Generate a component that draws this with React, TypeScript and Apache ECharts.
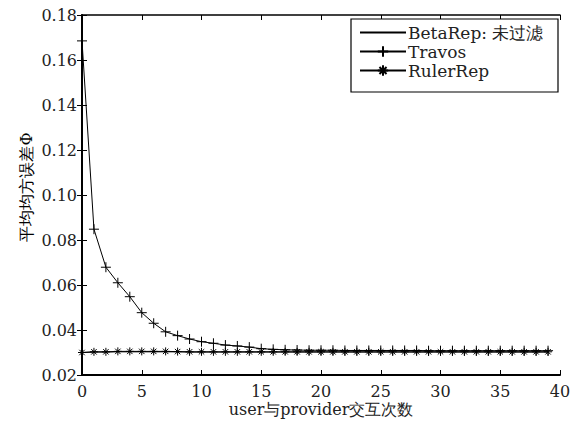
import React, { useEffect, useRef } from "react";
import * as echarts from "echarts";

const interactions = [
  0, 1, 2, 3, 4, 5, 6, 7, 8, 9, 10, 11, 12, 13, 14, 15, 16, 17, 18, 19,
  20, 21, 22, 23, 24, 25, 26, 27, 28, 29, 30, 31, 32, 33, 34, 35, 36, 37, 38, 39,
];
const betaRep = [
  0.0300, 0.0302, 0.0302, 0.0303, 0.0303, 0.0303, 0.0303, 0.0303, 0.0303, 0.0302,
  0.0302, 0.0302, 0.0302, 0.0302, 0.0302, 0.0302, 0.0302, 0.0302, 0.0302, 0.0302,
  0.0302, 0.0302, 0.0302, 0.0302, 0.0302, 0.0302, 0.0302, 0.0302, 0.0302, 0.0302,
  0.0302, 0.0302, 0.0302, 0.0302, 0.0302, 0.0302, 0.0302, 0.0302, 0.0302, 0.0302,
];
const travos = [
  0.1685, 0.0848, 0.0679, 0.0610, 0.0548, 0.0477, 0.0430, 0.0392, 0.0375, 0.0360,
  0.0348, 0.0341, 0.0333, 0.0329, 0.0324, 0.0317, 0.0314, 0.0312, 0.0311, 0.0310,
  0.0310, 0.0310, 0.0309, 0.0309, 0.0309, 0.0309, 0.0309, 0.0309, 0.0309, 0.0308,
  0.0308, 0.0308, 0.0308, 0.0308, 0.0308, 0.0308, 0.0308, 0.0308, 0.0308, 0.0308,
];
const rulerRep = [
  0.0300, 0.0303, 0.0303, 0.0305, 0.0305, 0.0305, 0.0305, 0.0305, 0.0304, 0.0303,
  0.0303, 0.0303, 0.0303, 0.0303, 0.0303, 0.0303, 0.0303, 0.0303, 0.0303, 0.0303,
  0.0303, 0.0303, 0.0303, 0.0303, 0.0303, 0.0303, 0.0303, 0.0303, 0.0303, 0.0303,
  0.0303, 0.0303, 0.0303, 0.0303, 0.0303, 0.0303, 0.0303, 0.0303, 0.0303, 0.0303,
];
const seriesNames = ["BetaRep: 未过滤", "Travos", "RulerRep"];
const xName = "user与provider交互次数";
const yName = "平均均方误差Φ";

const FONT = "DejaVu Serif";
const PLUS = "path://M0,5L10,5M5,0L5,10";
const STAR = "path://M5,0L5,10M0,5L10,5M1.6,1.6L8.4,8.4M8.4,1.6L1.6,8.4";

export default function App() {
  const ref = useRef<HTMLDivElement>(null);
  useEffect(() => {
    if (!ref.current) return;
    const chart = echarts.init(ref.current, undefined, { renderer: "svg" });
    const pairs = (vals: number[]) => interactions.map((x, i) => [x, vals[i]]);
    const axisText = { color: "#222", fontFamily: FONT, fontSize: 16, fontWeight: "normal" };
    chart.setOption({
      animation: false,
      backgroundColor: "#fff",
      textStyle: { fontFamily: FONT, fontWeight: "normal" },
      grid: { left: 82, right: 25, top: 15, bottom: 48 },
      xAxis: [
        {
          type: "value",
          min: 0,
          max: 40,
          interval: 5,
          position: "bottom",
          name: xName,
          nameLocation: "middle",
          nameGap: 26,
          nameMoveOverlap: false,
          nameTextStyle: { ...axisText },
          axisLine: { lineStyle: { color: "#000", width: 2 } },
          axisTick: { inside: true, length: 5, lineStyle: { color: "#000" } },
          axisLabel: { ...axisText, margin: 8 },
          splitLine: { show: false },
        },
        {
          type: "value",
          min: 0,
          max: 40,
          interval: 5,
          position: "top",
          axisLine: { lineStyle: { color: "#000", width: 1.5 } },
          axisTick: { inside: true, length: 5, lineStyle: { color: "#000" } },
          axisLabel: { show: false },
          splitLine: { show: false },
        },
      ],
      yAxis: [
        {
          type: "value",
          min: 0.02,
          max: 0.18,
          interval: 0.02,
          position: "left",
          name: yName,
          nameLocation: "middle",
          nameGap: 48,
          nameMoveOverlap: false,
          nameTextStyle: { ...axisText, color: "#000", padding: [0, 0, 0, 16] },
          axisLine: { show: true, lineStyle: { color: "#000", width: 2 } },
          axisTick: { show: true, inside: true, length: 5, lineStyle: { color: "#000" } },
          axisLabel: { ...axisText, margin: 5, formatter: (v: number) => v.toFixed(2) },
          splitLine: { show: false },
        },
        {
          type: "value",
          min: 0.02,
          max: 0.18,
          interval: 0.02,
          position: "right",
          axisLine: { show: true, lineStyle: { color: "#000", width: 1.5 } },
          axisTick: { show: true, inside: true, length: 5, lineStyle: { color: "#000" } },
          axisLabel: { show: false },
          splitLine: { show: false },
        },
      ],
      legend: {
        orient: "vertical",
        left: 359,
        top: 24,
        padding: 0,
        itemGap: 2,
        itemWidth: 46,
        itemHeight: 13,
        textStyle: { color: "#222", fontFamily: FONT, fontSize: 17, fontWeight: "normal", padding: [0, 0, 0, -3] },
        data: [
          { name: seriesNames[0], itemStyle: { color: "transparent", borderWidth: 0, opacity: 0 } },
          { name: seriesNames[1] },
          { name: seriesNames[2] },
        ],
      },
      graphic: [
        {
          type: "rect",
          shape: { x: 351, y: 19, width: 207, height: 73 },
          style: { fill: "#fff", stroke: "#000", lineWidth: 1.2 },
          z: 3,
          silent: true,
        },
      ],
      series: [
        {
          name: seriesNames[0],
          type: "line",
          data: pairs(betaRep),
          symbol: "none",
          lineStyle: { color: "#000", width: 1 },
          itemStyle: { color: "#000" },
          z: 2,
        },
        {
          name: seriesNames[1],
          type: "line",
          data: pairs(travos),
          symbol: PLUS,
          symbolSize: 10,
          showAllSymbol: true,
          lineStyle: { color: "#000", width: 1 },
          itemStyle: { color: "none", borderColor: "#000", borderWidth: 1 },
          z: 2,
        },
        {
          name: seriesNames[2],
          type: "line",
          data: pairs(rulerRep),
          symbol: STAR,
          symbolSize: 8,
          showAllSymbol: true,
          lineStyle: { color: "#000", width: 1 },
          itemStyle: { color: "none", borderColor: "#000", borderWidth: 1 },
          z: 2,
        },
      ],
    });
    return () => chart.dispose();
  }, []);
  return (
    <div
      ref={ref}
      style={{ position: "fixed", left: 0, top: 0, width: 585, height: 423, background: "#fff" }}
    />
  );
}
